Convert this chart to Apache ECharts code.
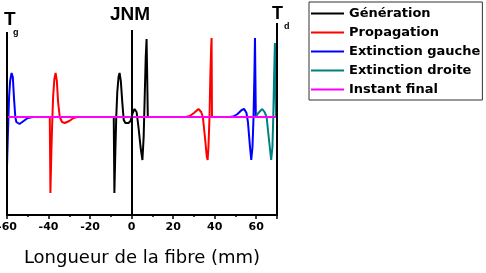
<!DOCTYPE html>
<html>
<head>
<meta charset="utf-8">
<script src="https://cdn.jsdelivr.net/npm/echarts@6/dist/echarts.min.js"></script>
<style>
  html, body { margin: 0; padding: 0; background: #fff; }
  #chart_1 { width: 486px; height: 273px; }
</style>
</head>
<body>
<div id="chart_1"></div>
<script>
// données : [position (mm), amplitude]
var genPts = [[-8.6, 0], [-8.3, -76], [-7.9, -40], [-7.4, 0], [-6.9, 25], [-6.3, 40], [-5.8, 44], [-5.2, 36],
    [-4.5, 15], [-3.8, -3], [-3, -6], [-1.5, -6], [-0.5, -4], [0.5, 4], [1.4, 8], [2.4, 5], [3.3, -10],
    [4.3, -30], [5.2, -43], [5.8, -20], [6.3, 20], [6.8, 60], [7.2, 78], [7.5, 40], [7.8, 0]];
var propLeft = [[-39.4, 0], [-39.1, -76], [-38.7, -40], [-38.3, -10], [-37.8, 20], [-37.2, 38], [-36.6, 44],
    [-36, 36], [-35.4, 15], [-34.6, 0], [-33.5, -5], [-32.2, -6], [-30, -4], [-28, -1], [-26, 0]];
var propRight = [[26, 0], [28, 1], [30, 4], [32.2, 8], [33.5, 5], [34.3, 0], [35.3, -20], [36.2, -40],
    [36.6, -43], [37, -30], [37.5, 0], [37.9, 40], [38.3, 70], [38.5, 79], [38.6, 40], [38.7, 0]];
var gaucheLeft = [[-60, -50], [-59.6, -20], [-59, 20], [-58.5, 36], [-57.8, 44], [-57.2, 40], [-56.6, 18],
    [-56, 0], [-55.5, -5], [-54, -7], [-52, -4], [-50, -1], [-47.5, 0]];
var gaucheRight = [[47, 0], [49, 0.5], [51, 3], [53, 7], [54.2, 8], [55.3, 4], [56, -5], [57, -30],
    [57.6, -43], [58.2, -30], [58.7, 0], [59.1, 40], [59.4, 79], [59.6, 40], [59.8, 0]];
var droitePts = [[59.8, 0], [61, 4], [62.9, 8], [64, 5], [65, 0], [66, -20], [67.2, -43], [67.8, -30],
    [68.2, 0], [68.6, 40], [69, 74], [69.3, 74], [69.5, 0]];
var finalPts = [[-60, 0], [70, 0]];
// traits verticaux : Tg, JNM, Td  [x, haut]
var vLines = [[-60, 85], [0, 87], [70, 94]];
var xTicks = [-60, -40, -20, 0, 20, 40, 60];
var yMin = -98, yMax = 94;

(function () {
    var myChart = echarts.init(document.getElementById('chart_1'));

    function ligne(name, color, data) {
        return {
            name: name,
            type: 'line',
            data: data,
            symbol: 'none',
            smooth: false,
            lineStyle: { color: color, width: 2 },
            itemStyle: { color: color },
            silent: true,
            z: 3
        };
    }

    var series = [
        ligne('Génération', '#000000', genPts),
        ligne('Propagation', '#ff0000', propLeft),
        ligne('Propagation', '#ff0000', propRight),
        ligne('Extinction gauche', '#0000ff', gaucheLeft),
        ligne('Extinction gauche', '#0000ff', gaucheRight),
        ligne('Extinction droite', '#008080', droitePts),
        ligne('Instant final', '#ff00ff', finalPts)
    ];
    series[0].markLine = {
        silent: true,
        symbol: 'none',
        label: { show: false },
        lineStyle: { color: '#000', width: 2, type: 'solid' },
        data: vLines.map(function (v) {
            return [{ coord: [v[0], yMin] }, { coord: [v[0], v[1]] }];
        })
    };
    series[6].z = 4;

    var option = {
        animation: false,
        backgroundColor: '#fff',
        textStyle: { fontFamily: 'DejaVu Sans' },
        grid: { left: 7, right: 209, top: 23, bottom: 58, outerBoundsMode: 'none', containLabel: false },
        legend: {
            data: ['Génération', 'Propagation', 'Extinction gauche', 'Extinction droite', 'Instant final'],
            orient: 'vertical',
            left: 309,
            top: 2,
            padding: [2, 2, 1, 2],
            borderColor: '#333',
            borderWidth: 1,
            itemGap: 0,
            itemWidth: 33,
            itemHeight: 2,
            icon: 'rect',
            selectedMode: false,
            textStyle: { color: '#000', fontSize: 13, fontWeight: 'bold', lineHeight: 19, fontFamily: 'DejaVu Sans' }
        },
        xAxis: {
            type: 'value',
            min: -60,
            max: 70,
            interval: 20,
            name: 'Longueur de la fibre (mm)',
            nameLocation: 'middle',
            nameGap: 34,
            nameTextStyle: { fontSize: 18, color: '#000', fontFamily: 'DejaVu Sans' },
            axisLine: { onZero: false, lineStyle: { color: '#000', width: 2 } },
            axisTick: { length: 4, lineStyle: { color: '#000', width: 1.5 } },
            minorTick: { show: true, splitNumber: 2, length: 2, lineStyle: { color: '#000', width: 1.5 } },
            splitLine: { show: false },
            axisLabel: {
                color: '#000', fontSize: 11, fontWeight: 'bold', margin: 7,
                fontFamily: 'DejaVu Sans',
                showMaxLabel: false,
                formatter: function (v) { return xTicks.indexOf(v) >= 0 ? String(v) : ''; }
            }
        },
        yAxis: {
            type: 'value',
            min: yMin,
            max: yMax,
            show: false
        },
        graphic: [
            { type: 'text', left: 4, top: 10, style: { text: 'T', font: 'bold 19px Liberation Sans', fill: '#000' } },
            { type: 'text', left: 13, top: 28, style: { text: 'g', font: 'bold 9px Liberation Sans', fill: '#000' } },
            { type: 'text', left: 110, top: 5, style: { text: 'JNM', font: 'bold 19px Liberation Sans', fill: '#000' } },
            { type: 'text', left: 272, top: 5, style: { text: 'T', font: 'bold 18px Liberation Sans', fill: '#000' } },
            { type: 'text', left: 284, top: 22, style: { text: 'd', font: 'bold 9px Liberation Sans', fill: '#000' } }
        ],
        series: series
    };

    if (option && typeof option === 'object')
        myChart.setOption(option);
    window.addEventListener("resize", function () {
        myChart.resize();
    });
})();
</script>
</body>
</html>
